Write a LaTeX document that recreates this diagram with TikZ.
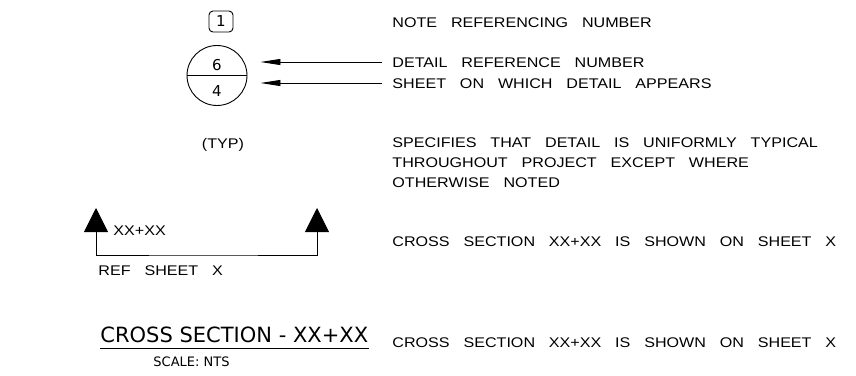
\documentclass[tikz,border=0pt]{standalone}
\usepackage{fontspec}
\setmainfont{Liberation Sans}
\newfontfamily\cadfont[FakeStretch=1.15,WordSpace=3.1]{Liberation Sans}
\newfontfamily\titlefont{DejaVu Sans}
\usepackage{tikz}
\usetikzlibrary{arrows.meta, positioning}
\tikzstyle{note} = [font=\cadfont\fontsize{14}{20}\selectfont, anchor=west, inner sep=0pt, text height=10pt, text depth=0pt]
\tikzstyle{noteblock} = [font=\cadfont\fontsize{14}{20}\selectfont, anchor=north west, inner sep=0pt, align=left]
\tikzstyle{digit} = [font=\titlefont\fontsize{15}{15}\selectfont, inner sep=0pt]
\tikzstyle{leader} = [-{Triangle[length=20pt,width=6pt]}, shorten <=10pt, shorten >=13pt]
\tikzstyle{cutline} = [{Triangle[length=24pt,width=24pt]}-{Triangle[length=24pt,width=24pt]}]

\begin{document}
\begin{tikzpicture}[x=1pt, y=-1pt, line width=0.9pt]
\useasboundingbox (0,0) rectangle (856,375);

% Symbols
\node (refnum) [digit, draw, rounded corners=4pt, minimum width=24pt, minimum height=21pt] at (221,21.5) {1};
\node (circ) [circle, draw, minimum size=60pt, inner sep=0pt] at (217,75.5) {};
\draw (circ.west) -- (circ.east);
\node (detnum) [digit] at (217,65.5) {6};
\node (shnum) [digit] at (217,91.5) {4};
\node (typ) [note, anchor=center] at (223,143) {(TYP)};

% Notes
\node (notetxt) [note] at (392,22) {NOTE REFERENCING NUMBER};
\node (dreftxt) [note] at (392,62) {DETAIL REFERENCE NUMBER};
\node (sheettxt) [note] at (392,83) {SHEET ON WHICH DETAIL APPEARS};
\node (typtxt) [noteblock] at (392,137) {SPECIFIES THAT DETAIL IS UNIFORMLY TYPICAL\\THROUGHOUT PROJECT EXCEPT WHERE\\OTHERWISE NOTED};
\node (cuttxt) [note] at (392,241) {CROSS SECTION XX+XX IS SHOWN ON SHEET X};
\node (titletxt) [note] at (392,342) {CROSS SECTION XX+XX IS SHOWN ON SHEET X};

% Leaders
\draw [leader] (dreftxt.west) -- (dreftxt.west -| circ.east);
\draw [leader] (sheettxt.west) -- (sheettxt.west -| circ.east);

% Section cut
\coordinate (lt) at (96,208);
\coordinate (rt) at (317,208);
\coordinate (base) at (200,255);
\draw [cutline] (lt) |- (base) -| (rt);
\node (station) [note] at (113,230) {XX+XX};
\node (refsheet) [note] at (98,270) {REF SHEET X};

% Section title
\node (title) [font=\titlefont\fontsize{21}{21}\selectfont, inner sep=0pt, anchor=base west] at (100,342) {CROSS SECTION - XX+XX};
\draw ([yshift=-6pt]title.base west) -- ([yshift=-6pt]title.base east);
\node (scale) [font=\titlefont\fontsize{13}{13}\selectfont, inner sep=0pt, anchor=west] at (153,362) {SCALE: NTS};

\end{tikzpicture}
\end{document}
